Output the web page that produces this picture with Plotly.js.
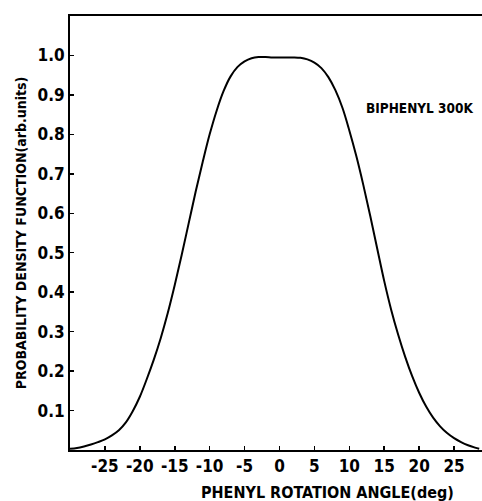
<!DOCTYPE html>
<html>
<head>
<meta charset="utf-8">
<script src="https://cdn.plot.ly/plotly-3.0.1.min.js"></script>
<style>html,body{margin:0;padding:0;background:#fff;}#chart{width:482px;height:501px;}</style>
</head>
<body>
<div id="chart"></div>
<script>
var angles = [-30,-29,-28,-27,-26,-25,-24,-23,-22,-21,-20,-19,-18,-17,-16,-15,-14,-13,-12,-11,-10,-9,-8,-7,-6,-5,-4,-3,-2,-1,0,1,2,3,4,5,6,7,8,9,10,11,12,13,14,15,16,17,18,19,20,21,22,23,24,25,26,27,28,28.6];
var density = [0.003,0.005,0.009,0.014,0.020,0.027,0.037,0.050,0.070,0.099,0.135,0.180,0.229,0.284,0.347,0.418,0.495,0.575,0.655,0.730,0.800,0.860,0.910,0.947,0.971,0.985,0.993,0.996,0.996,0.995,0.995,0.995,0.995,0.994,0.990,0.982,0.968,0.945,0.912,0.868,0.810,0.745,0.672,0.593,0.510,0.428,0.355,0.292,0.236,0.187,0.145,0.110,0.082,0.060,0.043,0.030,0.020,0.012,0.006,0.003];
var xTicks = [-25,-20,-15,-10,-5,0,5,10,15,20,25];
var yTicks = [0.1,0.2,0.3,0.4,0.5,0.6,0.7,0.8,0.9,1.0];
var yTickText = ["0.1","0.2","0.3","0.4","0.5","0.6","0.7","0.8","0.9","1.0"];
var labelText = "BIPHENYL 300K";
var xTitle = "PHENYL ROTATION ANGLE(deg)";
var yTitle = "PROBABILITY DENSITY FUNCTION(arb.units)";

var FONT = '"DejaVu Sans Condensed","DejaVu Sans",sans-serif';

var trace = {
  x: angles, y: density, type: 'scatter', mode: 'lines',
  line: {color: '#000', width: 2, shape: 'spline', smoothing: 1},
  hoverinfo: 'skip'
};
var layout = {
  width: 482, height: 501,
  margin: {l: 70, r: 0, t: 16, b: 51},
  paper_bgcolor: '#fff', plot_bgcolor: '#fff',
  showlegend: false,
  font: {family: FONT, color: '#000', size: 16},
  xaxis: {
    range: [-30, 29], tickmode: 'array', tickvals: xTicks,
    ticktext: xTicks.map(String),
    ticks: 'inside', ticklen: 4, tickwidth: 1.5, tickcolor: '#000',
    showline: true, linecolor: '#000', linewidth: 2, mirror: true,
    showgrid: false, zeroline: false,
    tickfont: {family: FONT, size: 17, weight: 'bold'}
  },
  yaxis: {
    range: [0, 1.1], tickmode: 'array', tickvals: yTicks, ticktext: yTickText,
    ticks: 'inside', ticklen: 4, tickwidth: 1.5, tickcolor: '#000',
    showline: true, linecolor: '#000', linewidth: 2, mirror: false,
    showgrid: false, zeroline: false,
    tickfont: {family: FONT, size: 17, weight: 'bold'},
    title: {text: yTitle, font: {family: FONT, size: 14, weight: 'bold'}, standoff: 8}
  },
  annotations: [{
    x: 20.1, y: 0.866, xref: 'x', yref: 'y', text: labelText, showarrow: false,
    font: {family: FONT, size: 13.5, weight: 'bold', color: '#000'}
  }, {
    x: 0.624, y: -0.097, xref: 'paper', yref: 'paper', xanchor: 'center', yanchor: 'middle',
    text: xTitle, showarrow: false,
    font: {family: FONT, size: 16, weight: 'bold', color: '#000'}
  }]
};
Plotly.newPlot('chart', [trace], layout, {staticPlot: true, displayModeBar: false});
</script>
</body>
</html>
